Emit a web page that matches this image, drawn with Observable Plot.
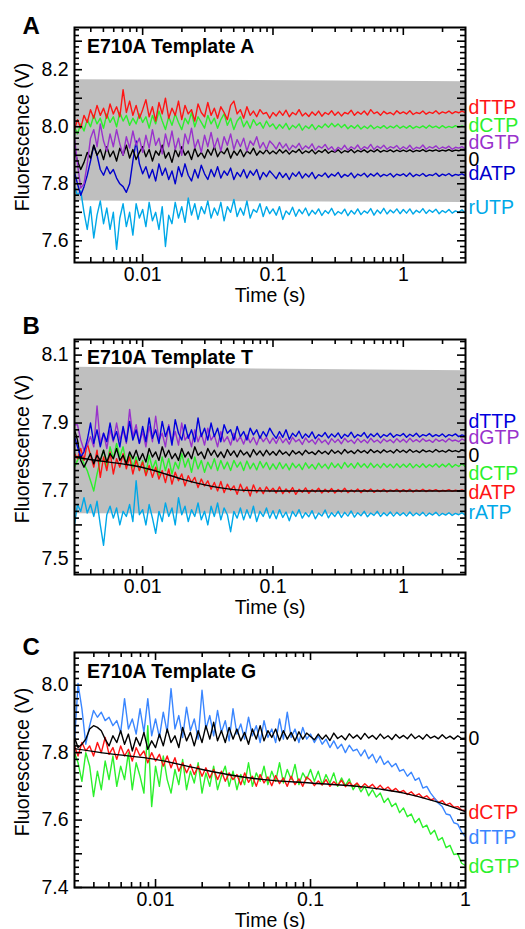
<!DOCTYPE html>
<html>
<head>
<meta charset="utf-8">
<script src="https://cdn.jsdelivr.net/npm/d3@7"></script>
<script src="https://cdn.jsdelivr.net/npm/@observablehq/plot@0.6"></script>
<style>
html, body { margin: 0; padding: 0; background: #fff; }
#wrap { position: relative; width: 525px; height: 929px; overflow: hidden; font-family: "Liberation Sans", Arial, sans-serif; }
#wrap > div { position: absolute; left: 0; }
</style>
</head>
<body>
<div id="wrap"><div id="pA" style="top:0px"></div><div id="pB" style="top:312px"></div><div id="pC" style="top:625px"></div></div>
<script>
// ---------- time grid (s) ----------
const timeAB = [
  0.003, 0.003162, 0.00335, 0.003548, 0.003758, 0.003981, 0.004217, 0.004467, 0.004732, 0.005012, 0.005309, 0.005623, 0.005957, 0.00631, 0.006683, 0.007079, 0.007499, 0.007943, 0.008414, 0.008913, 0.009441,
  0.01, 0.01059, 0.01122, 0.01189, 0.01259, 0.01334, 0.01413, 0.01496, 0.01585, 0.01679, 0.01778, 0.01884, 0.01995, 0.02113, 0.02239, 0.02371, 0.02512, 0.02661, 0.02818, 0.02985,
  0.03162, 0.0335, 0.03548, 0.03758, 0.03981, 0.04217, 0.04467, 0.04732, 0.05012, 0.05309, 0.05623, 0.05957, 0.0631, 0.06683, 0.07079, 0.07499, 0.07943, 0.08414, 0.08913, 0.09441,
  0.1, 0.1059, 0.1122, 0.1189, 0.1259, 0.1334, 0.1413, 0.1496, 0.1585, 0.1679, 0.1778, 0.1884, 0.1995, 0.2113, 0.2239, 0.2371, 0.2512, 0.2661, 0.2818, 0.2985,
  0.3162, 0.335, 0.3548, 0.3758, 0.3981, 0.4217, 0.4467, 0.4732, 0.5012, 0.5309, 0.5623, 0.5957, 0.631, 0.6683, 0.7079, 0.7499, 0.7943, 0.8414, 0.8913, 0.9441,
  1, 1.059, 1.122, 1.189, 1.259, 1.334, 1.413, 1.496, 1.585, 1.679, 1.778, 1.884, 1.995, 2.113, 2.239, 2.371, 2.512, 2.661, 2.818, 2.985
];
const timeC = [...timeAB.slice(0, 101), 1];

// ---------- Panel A: E710A Template A (V) ----------
const A_dTTP = [
  7.990, 8.025, 7.995, 8.040, 8.015, 8.060, 8.030, 8.075, 8.040, 8.065, 8.030, 8.080, 8.045, 8.070, 8.035, 8.130, 8.050, 8.090, 8.040, 8.075, 8.030,
  8.060, 8.095, 8.035, 8.070, 8.020, 8.085, 8.045, 8.100, 8.030, 8.065, 8.040, 8.090, 8.025, 8.075, 8.045, 8.060, 8.020, 8.080, 8.050, 8.035,
  8.085, 8.040, 8.065, 8.030, 8.070, 8.050, 8.025, 8.075, 8.090, 8.045, 8.060, 8.030, 8.070, 8.040, 8.055, 8.035, 8.060, 8.045, 8.050, 8.030,
  8.050, 8.038, 8.055, 8.040, 8.058, 8.035, 8.050, 8.042, 8.060, 8.038, 8.048, 8.036, 8.052, 8.040, 8.055, 8.037, 8.050, 8.043, 8.056, 8.040,
  8.052, 8.038, 8.050, 8.045, 8.058, 8.040, 8.052, 8.044, 8.055, 8.041, 8.060, 8.046, 8.052, 8.040, 8.054, 8.045, 8.050, 8.042, 8.056, 8.046,
  8.052, 8.045, 8.056, 8.043, 8.050, 8.046, 8.055, 8.044, 8.051, 8.047, 8.056, 8.045, 8.052, 8.048, 8.055, 8.046, 8.053, 8.049, 8.055, 8.050
];
const A_dCTP = [
  8.000, 7.975, 8.010, 7.985, 8.025, 8.000, 8.040, 8.010, 8.030, 7.995, 8.045, 8.015, 8.035, 8.000, 8.050, 8.020, 8.040, 8.005, 8.030, 8.010, 8.045,
  8.015, 8.035, 7.995, 8.040, 8.010, 8.055, 8.020, 7.990, 8.035, 8.005, 8.045, 8.015, 7.990, 8.030, 8.010, 8.050, 8.000, 8.035, 8.015, 7.995,
  8.040, 8.010, 8.030, 7.995, 8.025, 8.045, 8.005, 8.030, 7.990, 8.020, 8.035, 8.000, 8.020, 7.995, 8.025, 8.005, 8.015, 7.995, 8.020, 8.000,
  8.010, 7.992, 8.008, 7.995, 8.012, 7.990, 8.005, 7.996, 8.010, 7.988, 8.003, 7.994, 8.008, 7.990, 8.004, 7.996, 8.010, 7.998, 8.012, 8.000,
  8.010, 7.997, 8.008, 7.993, 8.004, 7.995, 8.006, 7.992, 8.002, 7.994, 8.005, 7.993, 8.001, 7.995, 8.004, 7.994, 8.002, 7.996, 8.005, 7.995,
  8.002, 7.995, 8.004, 7.994, 8.001, 7.996, 8.003, 7.995, 8.005, 7.997, 8.002, 7.995, 8.004, 7.996, 8.001, 7.997, 8.004, 7.998, 8.003, 7.999
];
const A_dGTP = [
  7.960, 7.870, 7.785, 7.800, 7.870, 7.960, 7.990, 7.930, 8.010, 7.950, 7.915, 7.975, 7.930, 7.990, 7.940, 7.900, 7.965, 7.925, 7.985, 7.935, 7.960,
  7.910, 7.970, 7.925, 7.990, 7.935, 7.960, 7.905, 7.975, 7.930, 7.985, 7.920, 7.960, 7.900, 7.975, 7.940, 7.995, 7.925, 7.955, 7.910, 7.970,
  7.930, 7.980, 7.925, 7.960, 7.915, 7.965, 7.935, 7.975, 7.920, 7.955, 7.930, 7.960, 7.915, 7.950, 7.935, 7.965, 7.925, 7.945, 7.920, 7.950,
  7.938, 7.922, 7.945, 7.925, 7.940, 7.918, 7.935, 7.926, 7.942, 7.920, 7.933, 7.924, 7.940, 7.918, 7.932, 7.925, 7.938, 7.920, 7.930, 7.914,
  7.928, 7.920, 7.935, 7.918, 7.930, 7.922, 7.936, 7.919, 7.930, 7.923, 7.938, 7.920, 7.932, 7.924, 7.935, 7.921, 7.930, 7.925, 7.934, 7.920,
  7.930, 7.922, 7.935, 7.920, 7.928, 7.924, 7.936, 7.921, 7.930, 7.925, 7.933, 7.922, 7.929, 7.924, 7.932, 7.921, 7.928, 7.925, 7.930, 7.923
];
const A_zero = [
  7.920, 7.880, 7.850, 7.875, 7.910, 7.890, 7.935, 7.900, 7.920, 7.885, 7.930, 7.895, 7.915, 7.880, 7.925, 7.900, 7.935, 7.890, 7.920, 7.885, 7.910,
  7.930, 7.895, 7.920, 7.880, 7.915, 7.900, 7.935, 7.890, 7.910, 7.875, 7.920, 7.895, 7.930, 7.900, 7.915, 7.885, 7.925, 7.895, 7.910, 7.890,
  7.920, 7.900, 7.930, 7.895, 7.915, 7.905, 7.925, 7.890, 7.915, 7.900, 7.920, 7.895, 7.915, 7.905, 7.925, 7.900, 7.915, 7.905, 7.920, 7.905,
  7.915, 7.905, 7.920, 7.908, 7.918, 7.904, 7.916, 7.910, 7.921, 7.906, 7.915, 7.909, 7.919, 7.905, 7.916, 7.910, 7.920, 7.907, 7.915, 7.911,
  7.919, 7.908, 7.916, 7.911, 7.920, 7.909, 7.917, 7.912, 7.919, 7.910, 7.918, 7.912, 7.920, 7.911, 7.917, 7.913, 7.919, 7.912, 7.918, 7.913,
  7.918, 7.913, 7.919, 7.912, 7.917, 7.914, 7.920, 7.913, 7.918, 7.915, 7.919, 7.914, 7.918, 7.915, 7.920, 7.914, 7.918, 7.916, 7.919, 7.917
];
const A_dATP = [
  7.840, 7.800, 7.760, 7.790, 7.830, 7.880, 7.935, 7.900, 7.850, 7.830, 7.860, 7.835, 7.850, 7.820, 7.800, 7.790, 7.770, 7.800, 7.880, 7.950, 7.870,
  7.835, 7.860, 7.820, 7.850, 7.810, 7.870, 7.830, 7.855, 7.815, 7.845, 7.800, 7.860, 7.825, 7.870, 7.830, 7.810, 7.850, 7.820, 7.865, 7.835,
  7.815, 7.850, 7.825, 7.860, 7.820, 7.845, 7.830, 7.855, 7.815, 7.840, 7.825, 7.850, 7.820, 7.845, 7.830, 7.850, 7.815, 7.840, 7.825, 7.845,
  7.832, 7.818, 7.840, 7.822, 7.836, 7.815, 7.838, 7.826, 7.842, 7.820, 7.835, 7.824, 7.840, 7.818, 7.832, 7.826, 7.838, 7.822, 7.834, 7.827,
  7.840, 7.822, 7.833, 7.826, 7.838, 7.821, 7.834, 7.828, 7.837, 7.824, 7.835, 7.827, 7.838, 7.825, 7.833, 7.828, 7.836, 7.824, 7.834, 7.829,
  7.835, 7.826, 7.838, 7.825, 7.833, 7.828, 7.836, 7.826, 7.832, 7.829, 7.837, 7.826, 7.834, 7.829, 7.836, 7.827, 7.833, 7.830, 7.835, 7.829
];
const A_rUTP = [
  7.790, 7.760, 7.775, 7.700, 7.640, 7.720, 7.610, 7.690, 7.740, 7.660, 7.715, 7.640, 7.700, 7.570, 7.680, 7.730, 7.650, 7.700, 7.620, 7.730, 7.680,
  7.710, 7.650, 7.735, 7.670, 7.700, 7.640, 7.720, 7.580, 7.690, 7.660, 7.735, 7.680, 7.720, 7.665, 7.750, 7.690, 7.730, 7.675, 7.720, 7.695,
  7.740, 7.680, 7.715, 7.690, 7.735, 7.670, 7.720, 7.700, 7.745, 7.685, 7.715, 7.690, 7.740, 7.680, 7.710, 7.700, 7.730, 7.685, 7.720, 7.695,
  7.712, 7.690, 7.720, 7.675, 7.705, 7.692, 7.718, 7.686, 7.710, 7.695, 7.715, 7.688, 7.707, 7.694, 7.712, 7.689, 7.706, 7.696, 7.714, 7.690,
  7.703, 7.695, 7.711, 7.688, 7.706, 7.694, 7.712, 7.692, 7.705, 7.697, 7.713, 7.690, 7.708, 7.696, 7.714, 7.694, 7.708, 7.698, 7.712, 7.695,
  7.710, 7.697, 7.712, 7.694, 7.707, 7.699, 7.713, 7.696, 7.708, 7.700, 7.711, 7.695, 7.706, 7.699, 7.710, 7.697, 7.705, 7.700, 7.709, 7.698
];

// ---------- Panel B: E710A Template T (V) ----------
const B_dTTP = [
  7.860, 7.830, 7.800, 7.815, 7.850, 7.900, 7.840, 7.880, 7.830, 7.870, 7.845, 7.900, 7.850, 7.875, 7.830, 7.890, 7.845, 7.905, 7.850, 7.880, 7.840,
  7.890, 7.845, 7.915, 7.855, 7.880, 7.840, 7.905, 7.860, 7.890, 7.835, 7.910, 7.870, 7.850, 7.895, 7.855, 7.880, 7.845, 7.915, 7.860, 7.885,
  7.850, 7.900, 7.860, 7.885, 7.845, 7.895, 7.870, 7.880, 7.850, 7.890, 7.860, 7.875, 7.850, 7.885, 7.865, 7.880, 7.855, 7.875, 7.860, 7.885,
  7.868, 7.855, 7.875, 7.858, 7.880, 7.852, 7.870, 7.860, 7.876, 7.855, 7.868, 7.858, 7.874, 7.854, 7.866, 7.860, 7.872, 7.856, 7.868, 7.859,
  7.871, 7.855, 7.867, 7.860, 7.873, 7.857, 7.866, 7.861, 7.872, 7.856, 7.868, 7.860, 7.870, 7.857, 7.866, 7.861, 7.870, 7.858, 7.866, 7.862,
  7.869, 7.858, 7.867, 7.861, 7.870, 7.859, 7.866, 7.862, 7.869, 7.860, 7.866, 7.861, 7.868, 7.859, 7.866, 7.862, 7.868, 7.860, 7.865, 7.862
];
const B_dGTP = [
  7.895, 7.895, 7.850, 7.820, 7.835, 7.860, 7.830, 7.950, 7.840, 7.870, 7.825, 7.880, 7.845, 7.900, 7.850, 7.880, 7.840, 7.940, 7.860, 7.895, 7.840,
  7.875, 7.830, 7.890, 7.845, 7.920, 7.850, 7.870, 7.830, 7.895, 7.845, 7.875, 7.835, 7.900, 7.850, 7.865, 7.830, 7.880, 7.845, 7.870, 7.835,
  7.885, 7.850, 7.865, 7.830, 7.875, 7.845, 7.860, 7.835, 7.870, 7.845, 7.860, 7.838, 7.865, 7.842, 7.858, 7.836, 7.862, 7.845, 7.858, 7.840,
  7.856, 7.840, 7.860, 7.842, 7.854, 7.838, 7.858, 7.845, 7.852, 7.837, 7.856, 7.843, 7.851, 7.838, 7.855, 7.842, 7.850, 7.837, 7.854, 7.843,
  7.852, 7.839, 7.855, 7.844, 7.850, 7.840, 7.854, 7.843, 7.851, 7.841, 7.855, 7.844, 7.850, 7.841, 7.853, 7.845, 7.851, 7.842, 7.854, 7.844,
  7.852, 7.843, 7.855, 7.845, 7.851, 7.844, 7.854, 7.846, 7.850, 7.843, 7.853, 7.846, 7.851, 7.844, 7.854, 7.847, 7.850, 7.845, 7.853, 7.848
];
const B_zero = [
  7.880, 7.850, 7.790, 7.770, 7.790, 7.810, 7.780, 7.805, 7.790, 7.820, 7.785, 7.810, 7.795, 7.825, 7.790, 7.805, 7.780, 7.815, 7.795, 7.820, 7.790,
  7.810, 7.785, 7.825, 7.800, 7.815, 7.790, 7.830, 7.800, 7.820, 7.795, 7.810, 7.790, 7.825, 7.800, 7.815, 7.795, 7.830, 7.805, 7.815, 7.795,
  7.825, 7.805, 7.820, 7.800, 7.815, 7.798, 7.822, 7.805, 7.818, 7.800, 7.820, 7.806, 7.815, 7.800, 7.822, 7.806, 7.818, 7.803, 7.820, 7.806,
  7.816, 7.805, 7.820, 7.808, 7.815, 7.804, 7.819, 7.809, 7.816, 7.806, 7.820, 7.810, 7.815, 7.807, 7.819, 7.810, 7.817, 7.808, 7.821, 7.811,
  7.818, 7.809, 7.822, 7.812, 7.818, 7.810, 7.821, 7.813, 7.819, 7.811, 7.822, 7.813, 7.819, 7.812, 7.821, 7.814, 7.819, 7.812, 7.822, 7.814,
  7.820, 7.813, 7.822, 7.814, 7.819, 7.813, 7.821, 7.815, 7.819, 7.814, 7.822, 7.815, 7.819, 7.814, 7.821, 7.816, 7.819, 7.815, 7.821, 7.817
];
const B_dCTP = [
  7.770, 7.790, 7.805, 7.780, 7.760, 7.730, 7.700, 7.750, 7.790, 7.820, 7.770, 7.830, 7.795, 7.840, 7.800, 7.830, 7.780, 7.810, 7.770, 7.800, 7.760,
  7.790, 7.750, 7.805, 7.765, 7.790, 7.745, 7.800, 7.760, 7.795, 7.750, 7.785, 7.765, 7.810, 7.770, 7.795, 7.755, 7.800, 7.765, 7.790, 7.755,
  7.785, 7.765, 7.795, 7.760, 7.790, 7.765, 7.785, 7.760, 7.790, 7.770, 7.785, 7.760, 7.788, 7.765, 7.782, 7.762, 7.787, 7.768, 7.784, 7.763,
  7.780, 7.764, 7.784, 7.766, 7.780, 7.762, 7.782, 7.768, 7.779, 7.763, 7.783, 7.767, 7.778, 7.764, 7.782, 7.768, 7.779, 7.765, 7.783, 7.769,
  7.780, 7.766, 7.784, 7.770, 7.781, 7.767, 7.783, 7.770, 7.780, 7.768, 7.782, 7.769, 7.779, 7.768, 7.781, 7.770, 7.779, 7.768, 7.780, 7.769,
  7.779, 7.770, 7.781, 7.768, 7.778, 7.770, 7.780, 7.769, 7.778, 7.771, 7.780, 7.770, 7.779, 7.771, 7.781, 7.770, 7.778, 7.772, 7.780, 7.772
];
const B_dATP = [
  7.810, 7.795, 7.825, 7.790, 7.840, 7.805, 7.770, 7.820, 7.740, 7.800, 7.760, 7.815, 7.750, 7.795, 7.770, 7.810, 7.765, 7.800, 7.750, 7.790, 7.760,
  7.785, 7.745, 7.775, 7.740, 7.770, 7.735, 7.760, 7.725, 7.765, 7.720, 7.755, 7.730, 7.750, 7.715, 7.745, 7.725, 7.740, 7.710, 7.735, 7.715,
  7.730, 7.705, 7.725, 7.700, 7.728, 7.695, 7.720, 7.702, 7.715, 7.690, 7.720, 7.698, 7.712, 7.685, 7.718, 7.695, 7.710, 7.692, 7.712, 7.698,
  7.708, 7.694, 7.712, 7.692, 7.706, 7.695, 7.710, 7.690, 7.705, 7.696, 7.709, 7.693, 7.704, 7.697, 7.708, 7.694, 7.705, 7.696, 7.707, 7.694,
  7.704, 7.697, 7.708, 7.695, 7.703, 7.697, 7.706, 7.695, 7.704, 7.698, 7.706, 7.696, 7.703, 7.698, 7.705, 7.697, 7.703, 7.699, 7.705, 7.697,
  7.704, 7.698, 7.705, 7.697, 7.703, 7.699, 7.705, 7.698, 7.703, 7.700, 7.704, 7.698, 7.702, 7.700, 7.704, 7.699, 7.702, 7.700, 7.703, 7.700
];
const B_rATP = [
  7.600, 7.660, 7.640, 7.680, 7.635, 7.660, 7.625, 7.670, 7.600, 7.540, 7.630, 7.655, 7.620, 7.650, 7.600, 7.640, 7.625, 7.660, 7.610, 7.730, 7.630,
  7.645, 7.600, 7.660, 7.620, 7.575, 7.640, 7.610, 7.665, 7.625, 7.650, 7.600, 7.680, 7.630, 7.655, 7.610, 7.645, 7.625, 7.665, 7.615, 7.640,
  7.600, 7.655, 7.625, 7.665, 7.615, 7.650, 7.630, 7.580, 7.640, 7.620, 7.650, 7.615, 7.645, 7.620, 7.655, 7.610, 7.640, 7.625, 7.650, 7.620,
  7.642, 7.618, 7.645, 7.622, 7.638, 7.612, 7.640, 7.625, 7.645, 7.620, 7.636, 7.624, 7.642, 7.618, 7.635, 7.626, 7.644, 7.621, 7.636, 7.625,
  7.640, 7.622, 7.637, 7.626, 7.641, 7.623, 7.636, 7.627, 7.640, 7.624, 7.635, 7.628, 7.640, 7.625, 7.636, 7.627, 7.638, 7.626, 7.637, 7.628,
  7.636, 7.626, 7.638, 7.627, 7.635, 7.628, 7.637, 7.626, 7.635, 7.629, 7.637, 7.627, 7.634, 7.629, 7.636, 7.628, 7.634, 7.630, 7.636, 7.629
];
const fitB_t = [0.003, 0.005, 0.0075, 0.01, 0.015, 0.02, 0.03, 0.04, 0.05, 0.07, 0.1, 0.3, 1, 3];
const fitB_v = [7.800, 7.787, 7.778, 7.769, 7.750, 7.735, 7.718, 7.709, 7.704, 7.701, 7.700, 7.700, 7.700, 7.700];

// ---------- Panel C: E710A Template G (V) ----------
const C_dTTP = [
  7.830, 8.005, 7.930, 7.825, 7.880, 7.925, 7.905, 7.920, 7.895, 7.905, 7.880, 7.895, 7.860, 7.960, 7.870, 7.900, 7.855, 7.930, 7.860, 7.960, 7.850,
  7.900, 7.845, 7.920, 7.860, 7.990, 7.870, 7.910, 7.845, 7.935, 7.865, 7.900, 7.840, 7.985, 7.870, 7.910, 7.850, 7.925, 7.860, 7.895, 7.835,
  7.930, 7.855, 7.885, 7.840, 7.905, 7.850, 7.880, 7.830, 7.895, 7.845, 7.870, 7.830, 7.900, 7.840, 7.920, 7.845, 7.870, 7.830, 7.875, 7.840,
  7.855, 7.830, 7.850, 7.825, 7.840, 7.815, 7.835, 7.812, 7.825, 7.800, 7.822, 7.805, 7.810, 7.790, 7.808, 7.782, 7.795, 7.770, 7.790, 7.765,
  7.775, 7.758, 7.768, 7.745, 7.750, 7.730, 7.742, 7.718, 7.725, 7.695, 7.700, 7.680, 7.665, 7.650, 7.640, 7.618, 7.615, 7.592, 7.588, 7.565,
  7.550
];
const C_zero = [
  7.845, 7.815, 7.825, 7.840, 7.870, 7.880, 7.875, 7.865, 7.840, 7.820, 7.850, 7.830, 7.865, 7.825, 7.855, 7.805, 7.845, 7.820, 7.860, 7.810, 7.835,
  7.815, 7.855, 7.820, 7.870, 7.830, 7.850, 7.815, 7.875, 7.835, 7.860, 7.820, 7.865, 7.830, 7.880, 7.840, 7.890, 7.835, 7.865, 7.830, 7.875,
  7.840, 7.870, 7.835, 7.860, 7.825, 7.870, 7.840, 7.880, 7.835, 7.865, 7.845, 7.870, 7.835, 7.865, 7.840, 7.860, 7.835, 7.862, 7.840, 7.858,
  7.848, 7.838, 7.855, 7.840, 7.852, 7.836, 7.858, 7.842, 7.850, 7.838, 7.856, 7.843, 7.852, 7.840, 7.857, 7.843, 7.851, 7.840, 7.855, 7.842,
  7.850, 7.839, 7.854, 7.843, 7.851, 7.841, 7.855, 7.842, 7.850, 7.840, 7.854, 7.843, 7.849, 7.841, 7.853, 7.842, 7.849, 7.840, 7.850, 7.842,
  7.843
];
const C_dCTP = [
  7.820, 7.790, 7.830, 7.805, 7.820, 7.790, 7.830, 7.800, 7.845, 7.795, 7.815, 7.780, 7.820, 7.790, 7.810, 7.775, 7.815, 7.790, 7.805, 7.770, 7.800,
  7.775, 7.795, 7.760, 7.790, 7.755, 7.785, 7.745, 7.770, 7.740, 7.765, 7.735, 7.760, 7.730, 7.755, 7.725, 7.750, 7.720, 7.745, 7.715, 7.740,
  7.720, 7.735, 7.705, 7.740, 7.712, 7.730, 7.700, 7.735, 7.710, 7.728, 7.702, 7.732, 7.708, 7.725, 7.700, 7.730, 7.705, 7.722, 7.700, 7.728,
  7.718, 7.702, 7.716, 7.704, 7.720, 7.700, 7.714, 7.703, 7.718, 7.699, 7.712, 7.700, 7.710, 7.695, 7.708, 7.697, 7.706, 7.692, 7.703, 7.690,
  7.698, 7.686, 7.694, 7.682, 7.688, 7.676, 7.684, 7.672, 7.678, 7.666, 7.672, 7.660, 7.664, 7.652, 7.658, 7.645, 7.650, 7.638, 7.640, 7.630,
  7.628
];
const C_dGTP = [
  7.800, 7.770, 7.715, 7.800, 7.760, 7.670, 7.745, 7.690, 7.775, 7.720, 7.790, 7.700, 7.760, 7.720, 7.800, 7.690, 7.770, 7.730, 7.680, 7.880, 7.640,
  7.760, 7.700, 7.790, 7.720, 7.680, 7.750, 7.705, 7.780, 7.690, 7.745, 7.710, 7.770, 7.680, 7.740, 7.700, 7.760, 7.690, 7.730, 7.760, 7.700,
  7.745, 7.690, 7.735, 7.705, 7.770, 7.700, 7.740, 7.715, 7.760, 7.705, 7.745, 7.715, 7.770, 7.710, 7.750, 7.720, 7.765, 7.705, 7.740, 7.720,
  7.750, 7.715, 7.745, 7.705, 7.735, 7.710, 7.740, 7.700, 7.725, 7.702, 7.722, 7.690, 7.708, 7.684, 7.700, 7.672, 7.690, 7.668, 7.680, 7.652,
  7.665, 7.640, 7.650, 7.622, 7.636, 7.610, 7.618, 7.592, 7.605, 7.578, 7.585, 7.558, 7.570, 7.540, 7.548, 7.518, 7.525, 7.498, 7.500, 7.472,
  7.465
];
const fitC_t = [0.003, 0.005, 0.01, 0.02, 0.032, 0.05, 0.1, 0.2, 0.3, 0.4, 0.63, 1];
const fitC_v = [7.812, 7.797, 7.780, 7.750, 7.732, 7.720, 7.710, 7.700, 7.690, 7.680, 7.656, 7.625];

// ---------- grey bands (V) ----------
const bandA = [{t: 0.003, lo: 7.740, hi: 8.165}, {t: 3, lo: 7.734, hi: 8.158}];
const bandB = [{t: 0.003, lo: 7.633, hi: 8.064}, {t: 3, lo: 7.631, hi: 8.054}];

// ---------- right-hand labels ----------
const labelsA = [
  {name: "dTTP", v: 8.065, color: "#ff1414"},
  {name: "dCTP", v: 8.002, color: "#2cf02c"},
  {name: "dGTP", v: 7.944, color: "#9932cc"},
  {name: "0",    v: 7.885, color: "#000000"},
  {name: "dATP", v: 7.835, color: "#0000cc"},
  {name: "rUTP", v: 7.715, color: "#00a8e8"}
];
const labelsB = [
  {name: "dTTP", v: 7.903, color: "#0000dd"},
  {name: "dGTP", v: 7.856, color: "#9932cc"},
  {name: "0",    v: 7.804, color: "#000000"},
  {name: "dCTP", v: 7.751, color: "#2cf02c"},
  {name: "dATP", v: 7.695, color: "#ff1414"},
  {name: "rATP", v: 7.636, color: "#00a8e8"}
];
const labelsC = [
  {name: "0",    v: 7.840, color: "#000000"},
  {name: "dCTP", v: 7.623, color: "#ff1414"},
  {name: "dTTP", v: 7.548, color: "#3a86ff"},
  {name: "dGTP", v: 7.461, color: "#2cf02c"}
];

// ---------- ticks ----------
const xMajorAB = [0.01, 0.1, 1];
const xMinorAB = [0.004, 0.005, 0.006, 0.007, 0.008, 0.009, 0.02, 0.03, 0.04, 0.05, 0.06, 0.07, 0.08, 0.09, 0.2, 0.3, 0.4, 0.5, 0.6, 0.7, 0.8, 0.9, 2];
const xLabelsAB = [0.01, 0.1, 1];
const xMajorC = [0.01, 0.1];
const xMinorC = [0.004, 0.005, 0.006, 0.007, 0.008, 0.009, 0.02, 0.03, 0.04, 0.05, 0.06, 0.07, 0.08, 0.09, 0.2, 0.3, 0.4, 0.5, 0.6, 0.7, 0.8, 0.9];
const xLabelsC = [0.01, 0.1, 1];
const yLabelsA = [7.6, 7.8, 8.0, 8.2];
const yLabelsB = [7.5, 7.7, 7.9, 8.1];
const yLabelsC = [7.4, 7.6, 7.8, 8.0];

const FONT = '"Liberation Sans", Arial, Helvetica, sans-serif';
const FRAME_W = 391, FRAME_H = 235, MAJOR = 8, MINOR = 5;

function stepTicks(lo, hi, step) {
  const out = [];
  for (let k = Math.ceil(lo / step - 1e-9); k * step <= hi + 1e-9; k++) out.push(+(k * step).toFixed(3));
  return out;
}

function panel(cfg) {
  const [y0, y1] = cfg.yDomain;
  const yMajor = stepTicks(y0, y1, 0.1);
  const yMinor = stepTicks(y0, y1, 0.02).filter(v => !yMajor.some(m => Math.abs(m - v) < 1e-6));
  const tk = {stroke: "black", strokeWidth: 1.6};
  const seriesMarks = cfg.series.map(s =>
    Plot.line(s.values.map((v, i) => ({t: cfg.time[i], v})), {x: "t", y: "v", stroke: s.color, strokeWidth: 1.4, clip: true})
  );
  const fit = cfg.fit
    ? Plot.line(cfg.fit.t.map((t, i) => ({t, v: cfg.fit.v[i]})), {x: "t", y: "v", stroke: "black", strokeWidth: 1.4, curve: "monotone-x", clip: true})
    : null;
  return Plot.plot({
    width: 525,
    height: cfg.height,
    marginLeft: 74,
    marginRight: 60,
    marginTop: 27,
    marginBottom: cfg.height - 262,
    x: {type: "log", domain: cfg.xDomain, label: null, axis: null},
    y: {domain: cfg.yDomain, label: null, axis: null},
    color: {type: "identity"},
    style: {fontFamily: FONT, fontSize: "19.5px", background: "transparent", overflow: "visible", color: "black"},
    marks: [
      cfg.band ? Plot.areaY(cfg.band, {x: "t", y1: "lo", y2: "hi", fill: "#bfbfbf"}) : null,
      ...seriesMarks,
      fit,
      // inward ticks on all four sides
      Plot.ruleX(cfg.xMajor, {x: d => d, insetTop: FRAME_H - MAJOR, ...tk}),
      Plot.ruleX(cfg.xMinor, {x: d => d, insetTop: FRAME_H - MINOR, ...tk}),
      Plot.ruleX(cfg.xMajor, {x: d => d, insetBottom: FRAME_H - MAJOR, ...tk}),
      Plot.ruleX(cfg.xMinor, {x: d => d, insetBottom: FRAME_H - MINOR, ...tk}),
      Plot.ruleY(yMajor, {y: d => d, insetRight: FRAME_W - MAJOR, ...tk}),
      Plot.ruleY(yMinor, {y: d => d, insetRight: FRAME_W - MINOR, ...tk}),
      Plot.ruleY(yMajor, {y: d => d, insetLeft: FRAME_W - MAJOR, ...tk}),
      Plot.ruleY(yMinor, {y: d => d, insetLeft: FRAME_W - MINOR, ...tk}),
      Plot.axisX({anchor: "bottom", ticks: cfg.xLabels, tickSize: 0, tickPadding: 5, tickFormat: d => String(d), label: null, fontSize: 19.5}),
      Plot.axisY({anchor: "left", ticks: cfg.yLabels, tickSize: 0, tickPadding: 6, tickFormat: d3.format(".1f"), label: null, fontSize: 19.5}),
      Plot.frame({stroke: "black", strokeWidth: 2}),
      Plot.text([cfg.title], {frameAnchor: "top-left", dx: 12.5, dy: cfg.titleDy, lineAnchor: "top", textAnchor: "start", fontWeight: "bold", fontSize: 19.5, fill: "black"}),
      Plot.text([cfg.letter], {frameAnchor: "top-left", dx: -52, dy: cfg.letterDy, lineAnchor: "bottom", textAnchor: "start", fontSize: 24, fontWeight: "bold", fill: "black"}),
      Plot.text(["Fluorescence (V)"], {frameAnchor: "left", dx: -46, dy: -8, rotate: -90, lineAnchor: "bottom", textAnchor: "middle", fontSize: 19.5, fill: "black"}),
      Plot.text(["Time (s)"], {frameAnchor: "bottom", dy: 39, lineAnchor: "bottom", textAnchor: "middle", fontSize: 19.5, fill: "black"}),
      Plot.text(cfg.labels, {y: "v", text: "name", fill: "color", frameAnchor: "right", dx: 3, textAnchor: "start", lineAnchor: "middle", fontSize: 19.5})
    ]
  });
}

const colors = {red: "#ff1414", green: "#2cf02c", purple: "#9932cc", black: "#000000", blue: "#0000cc", lightblue: "#00a8e8", blueC: "#3a86ff"};

document.getElementById("pA").append(panel({
  height: 310, xDomain: [0.003, 3], yDomain: [7.524, 8.348], time: timeAB,
  band: bandA, labels: labelsA, title: "E710A Template A", letter: "A", letterDy: 6.5, titleDy: 12,
  xMajor: xMajorAB, xMinor: xMinorAB, xLabels: xLabelsAB, yLabels: yLabelsA,
  series: [
    {values: A_rUTP, color: colors.lightblue},
    {values: A_dATP, color: colors.blue},
    {values: A_zero, color: colors.black},
    {values: A_dGTP, color: colors.purple},
    {values: A_dCTP, color: colors.green},
    {values: A_dTTP, color: colors.red}
  ]
}));

document.getElementById("pB").append(panel({
  height: 310, xDomain: [0.003, 3], yDomain: [7.454, 8.146], time: timeAB,
  band: bandB, labels: labelsB, title: "E710A Template T", letter: "B", letterDy: -6, titleDy: 11,
  xMajor: xMajorAB, xMinor: xMinorAB, xLabels: xLabelsAB, yLabels: yLabelsB,
  fit: {t: fitB_t, v: fitB_v},
  series: [
    {values: B_rATP, color: colors.lightblue},
    {values: B_dCTP, color: colors.green},
    {values: B_dATP, color: colors.red},
    {values: B_zero, color: colors.black},
    {values: B_dGTP, color: colors.purple},
    {values: B_dTTP, color: "#0000dd"}
  ]
}));

document.getElementById("pC").append(panel({
  height: 304, xDomain: [0.003, 1], yDomain: [7.4, 8.097], time: timeC,
  band: null, labels: labelsC, title: "E710A Template G", letter: "C", letterDy: 2.5, titleDy: 11.5,
  xMajor: xMajorC, xMinor: xMinorC, xLabels: xLabelsC, yLabels: yLabelsC,
  fit: {t: fitC_t, v: fitC_v},
  series: [
    {values: C_dGTP, color: colors.green},
    {values: C_dCTP, color: colors.red},
    {values: C_dTTP, color: colors.blueC},
    {values: C_zero, color: colors.black}
  ]
}));
</script>
</body>
</html>
